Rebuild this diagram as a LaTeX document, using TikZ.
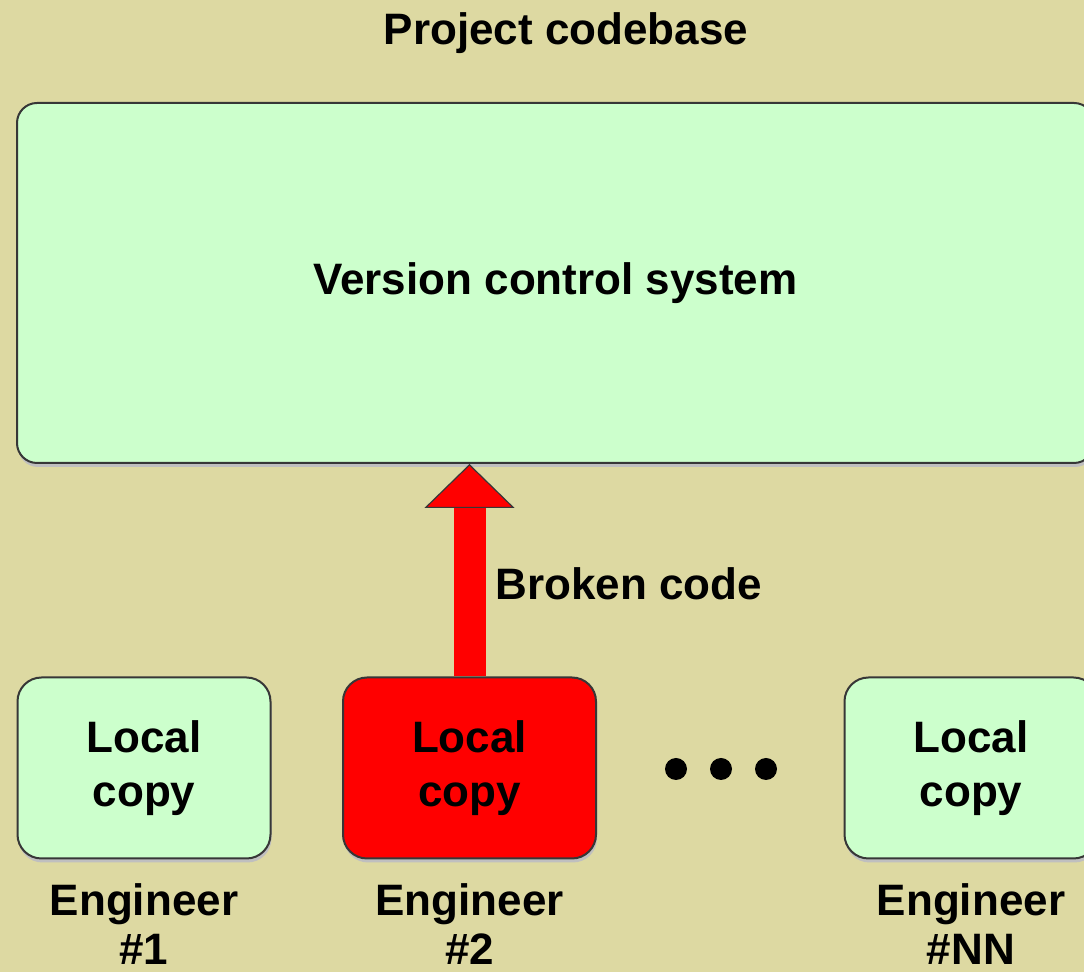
\documentclass[tikz,border=0pt]{standalone}
\usepackage{fontspec}
\setmainfont{Liberation Sans}
\usetikzlibrary{positioning,arrows.meta,shadows}
\definecolor{paper}{RGB}{221,217,162}
\definecolor{mint}{RGB}{204,255,204}
\definecolor{frame}{RGB}{55,55,55}

\begin{document}
\begin{tikzpicture}[x=0.5pt,y=-0.5pt,
  font=\fontsize{22pt}{27pt}\selectfont\bfseries,
  box/.style={draw=frame, line width=1pt, rounded corners=12pt, fill=mint, align=center,
    drop shadow={shadow xshift=0.5pt, shadow yshift=-2pt, fill=black!25, opacity=1}},
  copybox/.style={box, minimum width=126.5pt, minimum height=90.5pt},
  textnode/.style={align=center, inner sep=0pt},
  engineer/.style={textnode, font=\fontsize{22pt}{24.5pt}\selectfont\bfseries},
  ellipsisdot/.style={circle, fill=black, inner sep=0pt, minimum size=11pt}]
    \useasboundingbox (0,0) rectangle (1084,972);
    \fill[paper] (0,0) rectangle (1084,972);
    \clip (0,0) rectangle (1084,972);
    % repository
    \node[textnode, anchor=base] (title) at (566,45) {Project codebase};
    \node[box, rounded corners=10pt, minimum width=538.5pt, minimum height=180pt] (vcs) at (555.5,283) {Version control system};
    % local copies
    \node[copybox] (copy1) at (144,768) {Local\\copy};
    \node[copybox, fill=red] (copy2) at (469.5,768) {Local\\copy};
    \node[copybox] (copyN) at (971,768) {Local\\copy};
    \foreach \x [count=\i] in {676,721,766}
        \node[ellipsisdot] (dot\i) at (\x,769) {};
    \node[engineer, below=12pt of copy1] (eng1) {Engineer\\\#1};
    \node[engineer, below=12pt of copy2] (eng2) {Engineer\\\#2};
    \node[engineer, below=12pt of copyN] (engN) {Engineer\\\#NN};
    % commit
    \draw[red, line width=16pt, -{Triangle[length=22pt, width=45pt, line width'=0.6pt, color=frame, fill=red]}] (copy2.north) -- (copy2.north |- vcs.south);
    \node[textnode, anchor=base west] (broken) at (495,600) {Broken code};
\end{tikzpicture}
\end{document}
